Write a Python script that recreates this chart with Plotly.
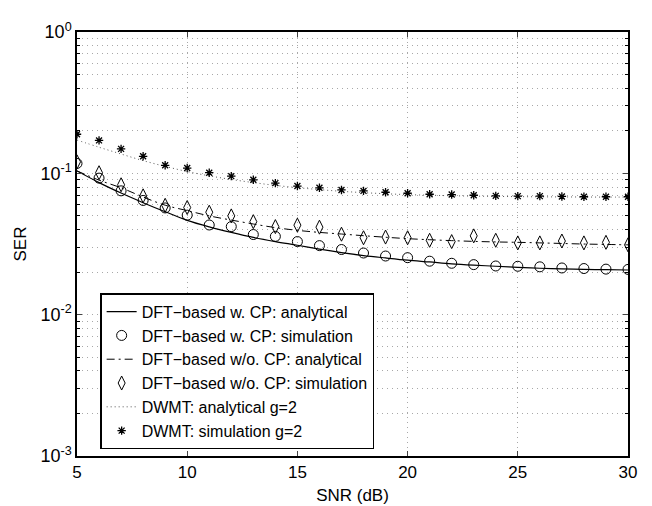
import plotly.graph_objects as go

# SNR points (dB)
snr = list(range(5, 31))

# DFT-based with CP
cp_analytical = [0.104, 0.086, 0.0725, 0.062, 0.0535, 0.0465, 0.0418, 0.0382, 0.0352,
                 0.0329, 0.0310, 0.0291, 0.0275, 0.0262, 0.0252, 0.0243, 0.0236, 0.0229,
                 0.0224, 0.0220, 0.0216, 0.0213, 0.0211, 0.0209, 0.0208, 0.0207]
cp_simulation = [0.1175, 0.0925, 0.0752, 0.0643, 0.0569, 0.0506, 0.0431, 0.0420, 0.0369,
                 0.0358, 0.0329, 0.0308, 0.0289, 0.0273, 0.0260, 0.0253, 0.0239, 0.0231,
                 0.0226, 0.0221, 0.0220, 0.0218, 0.0214, 0.0212, 0.0210, 0.0209]

# DFT-based without CP
nocp_analytical = [0.104, 0.0895, 0.079, 0.068, 0.0595, 0.0545, 0.050, 0.0467, 0.0438,
                   0.0413, 0.0395, 0.0382, 0.0372, 0.0362, 0.0353, 0.0345, 0.0339, 0.0334,
                   0.0330, 0.0327, 0.0325, 0.0322, 0.0319, 0.0316, 0.0314, 0.0312]
nocp_simulation = [0.1205, 0.101, 0.083, 0.0693, 0.0594, 0.0573, 0.0531, 0.050, 0.0455,
                   0.042, 0.043, 0.0416, 0.0371, 0.035, 0.0354, 0.035, 0.0336, 0.0329,
                   0.0361, 0.0336, 0.0322, 0.0322, 0.0332, 0.0322, 0.0325, 0.0312]

# DWMT, g=2
dwmt_analytical = [0.172, 0.153, 0.137, 0.123, 0.112, 0.103, 0.096, 0.0905, 0.0860,
                   0.0822, 0.0792, 0.0767, 0.0746, 0.0730, 0.0717, 0.0707, 0.0700, 0.0694,
                   0.0690, 0.0687, 0.0684, 0.0682, 0.0681, 0.0680, 0.0679, 0.0679]
dwmt_simulation = [0.189, 0.171, 0.149, 0.132, 0.114, 0.109, 0.101, 0.0955, 0.090,
                   0.0853, 0.0813, 0.079, 0.0763, 0.0751, 0.0735, 0.0723, 0.0711, 0.0708,
                   0.070, 0.0693, 0.069, 0.069, 0.0686, 0.0683, 0.0683, 0.0683]

x_ticks = [5, 10, 15, 20, 25, 30]
y_ticks = [1e-3, 1e-2, 1e-1, 1]
y_ticktext = ["10<sup>-3</sup>", "10<sup>-2</sup>", "10<sup>-1</sup>", "10<sup>0</sup>"]

FONT = "Liberation Sans, Arial, sans-serif"
GRID = "#a8a8a8"
GRIDDASH = "1px,4px"

fig = go.Figure()
fig.add_trace(go.Scatter(
    x=snr, y=cp_analytical, mode="lines", line_shape="spline",
    line=dict(color="black", width=1.2),
    name="DFT\u2212based w. CP: analytical"
))
fig.add_trace(go.Scatter(
    x=snr, y=cp_simulation, mode="markers",
    marker=dict(symbol="circle-open", size=10, color="black", line=dict(width=1)),
    name="DFT\u2212based w. CP: simulation"
))
fig.add_trace(go.Scatter(
    x=snr, y=nocp_analytical, mode="lines", line_shape="spline",
    line=dict(color="black", width=1, dash="8px,4px,2px,4px"),
    name="DFT\u2212based w/o. CP: analytical"
))
fig.add_trace(go.Scatter(
    x=snr, y=nocp_simulation, mode="markers",
    marker=dict(symbol="diamond-tall-open", size=10, color="black", line=dict(width=1)),
    name="DFT\u2212based w/o. CP: simulation"
))
fig.add_trace(go.Scatter(
    x=snr, y=dwmt_analytical, mode="lines", line_shape="spline",
    line=dict(color="#555555", width=1, dash="1px,3px"),
    name="DWMT: analytical g=2"
))
fig.add_trace(go.Scatter(
    x=snr, y=dwmt_simulation, mode="markers",
    marker=dict(symbol="asterisk-open", size=7, color="black", line=dict(width=1.3, color="black")),
    name="DWMT: simulation g=2"
))

fig.update_xaxes(
    range=[5, 30], tickvals=x_ticks, ticks="inside", ticklen=5,
    showline=True, linecolor="black", linewidth=1.5, mirror="ticks",
    showgrid=True, gridcolor=GRID, griddash=GRIDDASH, gridwidth=1,
    zeroline=False, tickfont=dict(size=17, color="black", family=FONT),
    title=dict(text="SNR (dB)", font=dict(size=17, color="black", family=FONT), standoff=8)
)
fig.update_yaxes(
    type="log", range=[-3, 0], tickvals=y_ticks, ticktext=y_ticktext,
    ticks="inside", ticklen=5,
    showline=True, linecolor="black", linewidth=1.5, mirror="ticks",
    showgrid=True, gridcolor=GRID, griddash=GRIDDASH, gridwidth=1,
    minor=dict(
        tickvals=[m * 10 ** e for e in (-3, -2, -1) for m in range(2, 10)],
        ticks="inside", ticklen=3, tickcolor="black",
        showgrid=True, gridcolor=GRID, griddash=GRIDDASH, gridwidth=1
    ),
    tickfont=dict(size=18, color="black", family=FONT),
    title=dict(text="SER", font=dict(size=17, color="black", family=FONT), standoff=9)
)

# the page body adds an 8px offset, so margins are set to land the axes
# where they sit in the reference (x 77..628, y 23..456 on the page)
fig.update_layout(
    width=652, height=506,
    margin=dict(l=69, r=32, t=15, b=58),
    plot_bgcolor="white", paper_bgcolor="white",
    font=dict(family=FONT, color="black"),
    legend=dict(
        x=0.042, y=0.016, xanchor="left", yanchor="bottom",
        bgcolor="white", bordercolor="black", borderwidth=1.5,
        font=dict(size=16, color="black", family=FONT),
        tracegroupgap=0, itemwidth=30
    )
)

fig.write_html("out.html")
